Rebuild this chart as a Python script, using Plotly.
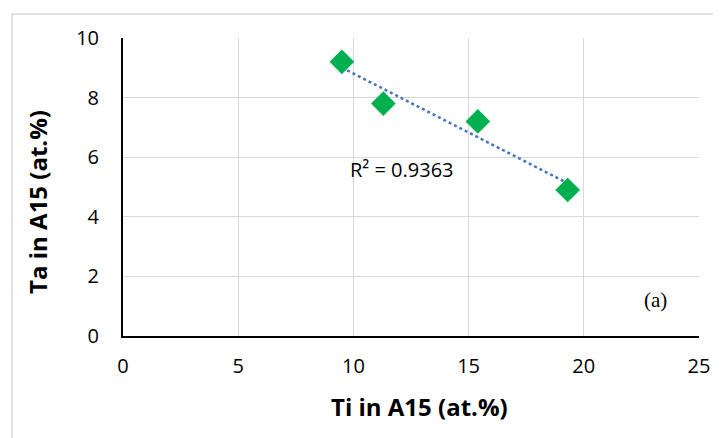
import numpy as np
import plotly.graph_objects as go

ti = [9.5, 11.3, 15.4, 19.3]
ta = [9.2, 7.8, 7.2, 4.9]
r2_label = "R² = 0.9363"
panel_label = "(a)"
x_title = "<b>Ti in A15 (at.%)</b>"
y_title = "<b>Ta in A15 (at.%)</b>"
x_ticks = [0, 5, 10, 15, 20, 25]
y_ticks = [0, 2, 4, 6, 8, 10]

slope, intercept = np.polyfit(ti, ta, 1)
fit_x = [min(ti), max(ti)]
fit_y = [slope * v + intercept for v in fit_x]

font_family = "Open Sans, Noto Sans, sans-serif"

fig = go.Figure()
fig.add_trace(go.Scatter(x=fit_x, y=fit_y, mode="lines",
                         line=dict(color="#4472c4", width=2.5, dash="dot"),
                         showlegend=False, hoverinfo="skip"))
fig.add_trace(go.Scatter(x=ti, y=ta, mode="markers",
                         marker=dict(symbol="diamond", size=19, color="#00b050"),
                         showlegend=False))

fig.add_annotation(x=12.1, y=5.6, text=r2_label, showarrow=False,
                   xanchor="center", yanchor="middle",
                   font=dict(family=font_family, size=20, color="#000"))
fig.add_annotation(x=23.1, y=1.2, text=panel_label, showarrow=False,
                   xanchor="center", yanchor="middle",
                   font=dict(family="Liberation Serif, serif", size=21, color="#000"))

# axis titles
fig.add_annotation(xref="paper", yref="paper", x=0.514, y=-0.238, text=x_title,
                   showarrow=False, xanchor="center", yanchor="middle",
                   font=dict(family=font_family, size=24, color="#000"))
fig.add_annotation(xref="paper", yref="paper", x=-0.1476, y=0.45, text=y_title,
                   showarrow=False, textangle=-90, xanchor="center", yanchor="middle",
                   font=dict(family=font_family, size=24, color="#000"))

# outer chart frame
fig.add_shape(type="rect", xref="paper", yref="paper",
              x0=-0.1927, x1=1.2, y0=-0.5, y1=1.0805,
              line=dict(color="#d9d9d9", width=1.5), fillcolor="rgba(0,0,0,0)", layer="below")

fig.update_layout(
    width=713, height=430,
    margin=dict(l=115, r=22, t=30, b=102),
    plot_bgcolor="white", paper_bgcolor="white",
    font=dict(family=font_family, color="#000"),
    xaxis=dict(range=[0, 25], tickvals=x_ticks, showgrid=True, gridcolor="#d9d9d9", gridwidth=1.2,
               showline=True, linecolor="#000", linewidth=2, zeroline=False,
               ticks="", ticklabelstandoff=11, tickfont=dict(size=20)),
    yaxis=dict(range=[0, 10], tickvals=y_ticks, showgrid=True, gridcolor="#d9d9d9", gridwidth=1.2,
               showline=True, linecolor="#000", linewidth=2, zeroline=False,
               ticks="", ticklabelstandoff=18, tickfont=dict(size=20)),
)

fig.write_html("out.html")
